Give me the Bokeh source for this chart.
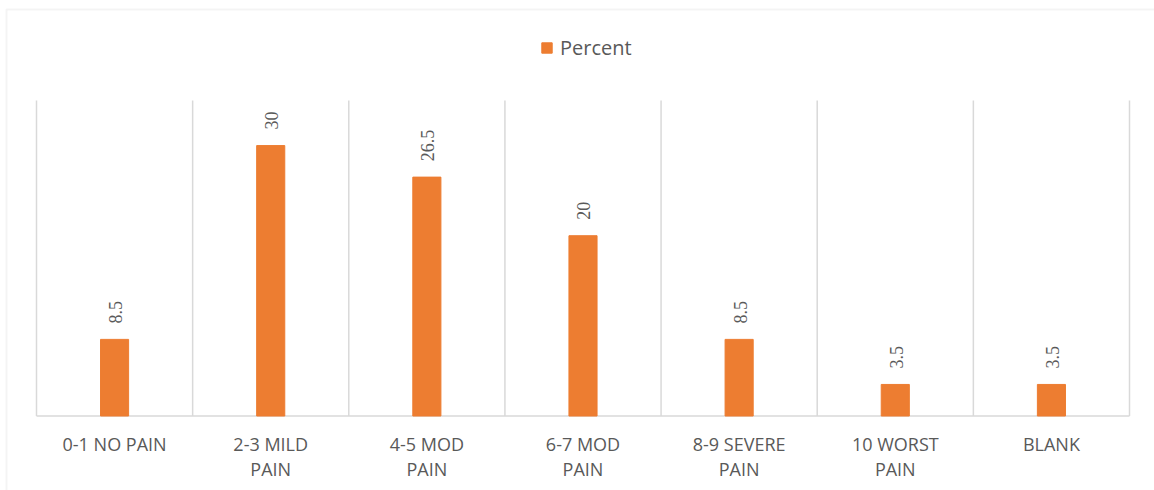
from bokeh.plotting import figure
from bokeh.models import (Range1d, ColumnDataSource, LabelSet,
                          Legend, LegendItem, BoxAnnotation)
from bokeh.embed import file_html
from bokeh.resources import INLINE

# Pain score distribution
categories = ["0-1 NO PAIN", "2-3 MILD PAIN", "4-5 MOD PAIN", "6-7 MOD PAIN",
              "8-9 SEVERE PAIN", "10 WORST PAIN", "BLANK"]
tick_labels = ["0-1 NO PAIN", "2-3 MILD\nPAIN", "4-5 MOD\nPAIN", "6-7 MOD\nPAIN",
               "8-9 SEVERE\nPAIN", "10 WORST\nPAIN", "BLANK"]
percent = [8.5, 30, 26.5, 20, 8.5, 3.5, 3.5]
series_name = "Percent"
value_max = 35

FONT = "Open Sans"
TEXT = "#595959"
GRID = "#D9D9D9"
ORANGE = "#ED7D31"

W, H = 1154, 490
# pixel geometry of the plotting area inside the canvas
AREA_LEFT, AREA_RIGHT, AREA_TOP, AREA_BASE = 36, 1129, 100, 415.5

n = len(categories)
ux = (AREA_RIGHT - AREA_LEFT) / n          # px per category
uy = (AREA_BASE - AREA_TOP) / value_max    # px per percent point

centers = [i + 0.5 for i in range(n)]
src = ColumnDataSource(dict(
    x=centers,
    pct=percent,
    cat=categories,
    tick=tick_labels,
    label=[f"{v:g}" for v in percent],
    base=[0] * n,
))

# the frame covers the whole canvas; the chart is laid out in data space
p = figure(width=W, height=H,
           x_range=Range1d(-AREA_LEFT / ux, (W - AREA_LEFT) / ux),
           y_range=Range1d(-(H - AREA_BASE) / uy, AREA_BASE / uy),
           x_axis_location=None, y_axis_location=None,
           output_backend="svg", toolbar_location=None,
           min_border=0)
p.outline_line_color = None
p.grid.visible = False
p.background_fill_color = "white"
p.border_fill_color = "white"

# chart area border
p.add_layout(BoxAnnotation(left=(6 - AREA_LEFT) / ux, right=(W + 50 - AREA_LEFT) / ux,
                           top=(AREA_BASE - 9) / uy, bottom=-(H + 50 - AREA_BASE) / uy,
                           fill_alpha=0, line_color=GRID, line_width=2))

# vertical separators between categories and the category baseline
seps = list(range(n + 1))
p.segment(x0=seps, y0=[0] * (n + 1), x1=seps, y1=[value_max] * (n + 1),
          line_color=GRID, line_width=1.5)
p.segment(x0=[0], y0=[0], x1=[n], y1=[0], line_color=GRID, line_width=1.5)

bars = p.vbar(x="x", top="pct", bottom="base", width=0.18, source=src,
              fill_color=ORANGE, line_color=ORANGE)

# category labels under the baseline
p.text(x="x", y="base", text="tick", source=src,
       text_align="center", text_baseline="top", y_offset=16,
       text_font={"value": FONT}, text_font_size="18px", text_color=TEXT,
       text_line_height=1.04)

labels = LabelSet(x="x", y="pct", text="label", source=src,
                  angle=90, angle_units="deg",
                  text_align="left", text_baseline="middle",
                  y_offset=16, x_offset=1,
                  text_font=FONT, text_font_size="18px", text_color=TEXT)
p.add_layout(labels)

legend = Legend(items=[LegendItem(label=series_name, renderers=[bars])],
                location=(540, H - 61), orientation="horizontal",
                border_line_color=None, background_fill_alpha=0,
                padding=0, margin=0, spacing=0,
                glyph_width=13, glyph_height=13, label_standoff=7,
                label_text_font=FONT, label_text_font_size="20px",
                label_text_color=TEXT)
p.add_layout(legend)

open("out.html", "w").write(file_html(p, INLINE))
